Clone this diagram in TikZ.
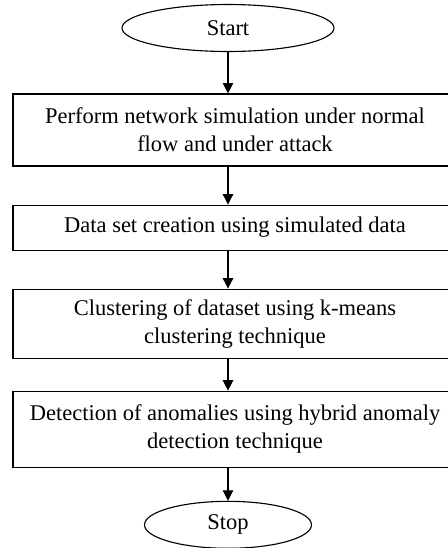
\documentclass[tikz,border=0pt]{standalone}
\usepackage{fontspec}
\setmainfont{Liberation Serif}
\usetikzlibrary{shapes.geometric, arrows.meta, positioning}

\begin{document}
\begin{tikzpicture}[font=\fontsize{16}{20}\selectfont, line width=0.8pt,
  term/.style = {draw, ellipse, inner sep=0pt, minimum height=11.75mm},
  proc/.style = {draw, rectangle, align=center, inner sep=0pt, minimum width=111mm}]
           \useasboundingbox (0,0) rectangle (11.2,-13.7);
           \node[term, minimum width=53mm]   (start) at (5.7,-0.7)      {Start};
           \node[proc, minimum height=18mm]  (sim)   at (5.875,-3.25)   {Perform network simulation under normal\\ flow and under attack};
           \node[proc, minimum height=11.25mm] (data) at (5.875,-5.69) {Data set creation using simulated data};
           \node[proc, minimum height=17.25mm] (clus) at (5.875,-8.09) {Clustering of dataset using k-means\\ clustering technique};
           \node[proc, minimum height=19mm]  (det)   at (5.875,-10.73)  {Detection of anomalies using hybrid anomaly\\ detection technique};
           \node[term, minimum width=41.75mm] (stop) at (5.7,-13.12)    {Stop};

           \path[-{Triangle[length=2.6mm, width=2.6mm]}]
           (start.south) edge (start.south |- sim.north)
           (start.south |- sim.south)  edge (start.south |- data.north)
           (start.south |- data.south) edge (start.south |- clus.north)
           (start.south |- clus.south) edge (start.south |- det.north)
           (start.south |- det.south)  edge (stop.north);
         \end{tikzpicture}
\end{document}
